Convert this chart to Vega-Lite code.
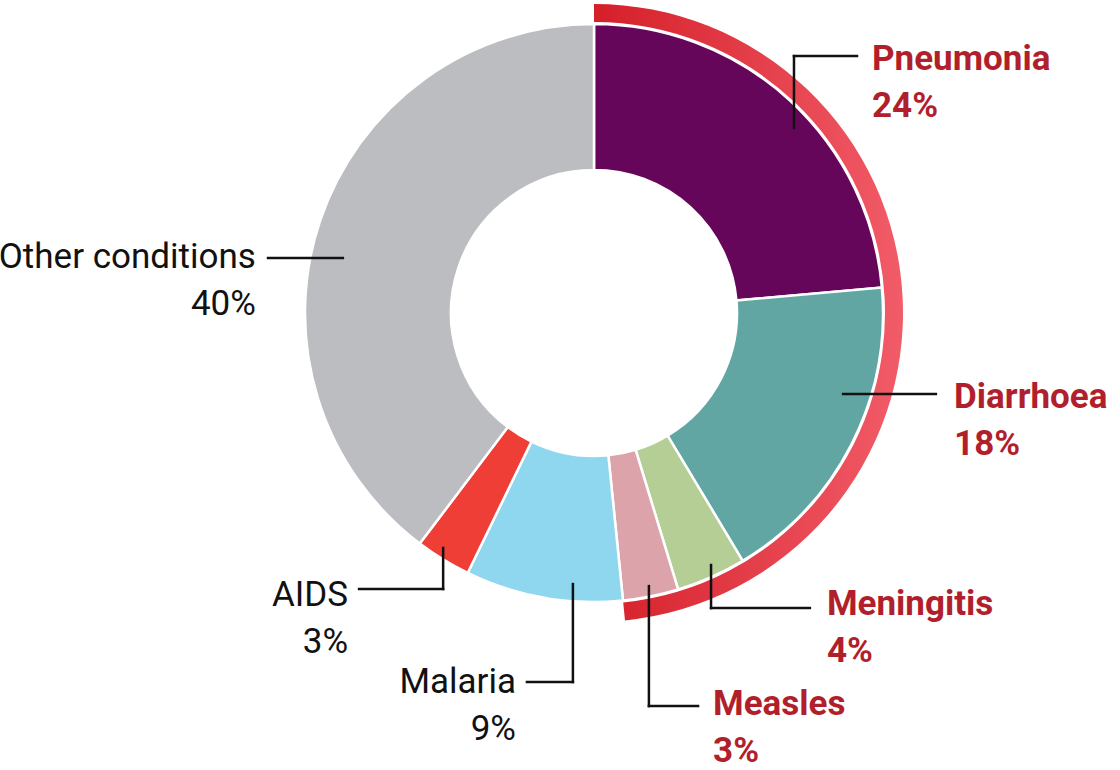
{
  "$schema": "https://vega.github.io/schema/vega-lite/v6.json",
  "width": 1120,
  "height": 770,
  "padding": 0,
  "autosize": {"type": "none"},
  "background": "white",
  "config": {"view": {"stroke": null}},
  "datasets": {
    "causes": [
      {"cause": "Pneumonia", "value": 23.6, "idx": 1},
      {"cause": "Diarrhoea", "value": 17.8, "idx": 2},
      {"cause": "Meningitis", "value": 3.9, "idx": 3},
      {"cause": "Measles", "value": 3.1, "idx": 4},
      {"cause": "Malaria", "value": 8.8, "idx": 5},
      {"cause": "AIDS", "value": 3.1, "idx": 6},
      {"cause": "Other conditions", "value": 39.7, "idx": 7}
    ],
    "ring": [
      {"group": "Pneumonia, diarrhoea, meningitis and measles", "value": 48.4}
    ],
    "leaders": [
      {"cause": "Pneumonia", "x": 69.2, "y": 64.0, "x2": 69.2, "y2": 88.9},
      {"cause": "Pneumonia", "x": 69.2, "y": 88.9, "x2": 91.0, "y2": 88.9},
      {"cause": "Diarrhoea", "x": 86.2, "y": -28.0, "x2": 118.3, "y2": -28.0},
      {"cause": "Meningitis", "x": 40.5, "y": -87.2, "x2": 40.5, "y2": -102.1},
      {"cause": "Meningitis", "x": 40.5, "y": -102.1, "x2": 74.7, "y2": -102.1},
      {"cause": "Measles", "x": 19.0, "y": -94.5, "x2": 19.0, "y2": -136.0},
      {"cause": "Measles", "x": 19.0, "y": -136.0, "x2": 36.0, "y2": -136.0},
      {"cause": "Malaria", "x": -7.3, "y": -93.8, "x2": -7.3, "y2": -127.7},
      {"cause": "Malaria", "x": -7.3, "y": -127.7, "x2": -23.2, "y2": -127.7},
      {"cause": "AIDS", "x": -52.2, "y": -81.3, "x2": -52.2, "y2": -95.5},
      {"cause": "AIDS", "x": -52.2, "y": -95.5, "x2": -81.3, "y2": -95.5},
      {"cause": "Other conditions", "x": -112.8, "y": 19.0, "x2": -86.9, "y2": 19.0}
    ],
    "labels": [
      {"label": "Pneumonia\n24%", "side": "right", "x": 96.2, "y": 84.1},
      {"label": "Diarrhoea\n18%", "side": "right", "x": 124.6, "y": -32.9},
      {"label": "Meningitis\n4%", "side": "right", "x": 80.6, "y": -104.5},
      {"label": "Measles\n3%", "side": "right", "x": 41.2, "y": -139.1},
      {"label": "Malaria\n9%", "side": "left", "x": -27.0, "y": -131.5},
      {"label": "AIDS\n3%", "side": "left", "x": -85.1, "y": -101.4},
      {"label": "Other conditions\n40%", "side": "left", "x": -117.0, "y": 15.6}
    ]
  },
  "layer": [
    {
      "data": {"name": "ring"},
      "mark": {
        "type": "arc",
        "innerRadius": 291,
        "outerRadius": 309,
        "fill": {
          "gradient": "linear",
          "x1": 0, "y1": 0, "x2": 1, "y2": 0,
          "stops": [
            {"offset": 0, "color": "#d51f29"},
            {"offset": 1, "color": "#f15c68"}
          ]
        }
      },
      "encoding": {
        "theta": {"field": "value", "type": "quantitative", "scale": {"domain": [0, 100]}},
        "x": {"datum": 0, "type": "quantitative", "scale": {"domain": [-205.54, 182.01], "nice": false, "zero": false}, "axis": null},
        "y": {"datum": 0, "type": "quantitative", "scale": {"domain": [-158.13, 108.30], "nice": false, "zero": false}, "axis": null}
      }
    },
    {
      "data": {"name": "causes"},
      "mark": {"type": "arc", "innerRadius": 143, "outerRadius": 289, "stroke": "white", "strokeWidth": 2.5},
      "encoding": {
        "theta": {"field": "value", "type": "quantitative", "scale": {"domain": [0, 100]}},
        "order": {"field": "idx"},
        "fill": {
          "field": "cause",
          "type": "nominal",
          "scale": {
            "domain": ["Pneumonia", "Diarrhoea", "Meningitis", "Measles", "Malaria", "AIDS", "Other conditions"],
            "range": ["#66065a", "#62a6a4", "#b5ce96", "#dda3ab", "#8fd6ef", "#ef3e36", "#bcbdc1"]
          },
          "legend": null
        },
        "x": {"datum": 0, "type": "quantitative", "scale": {"domain": [-205.54, 182.01], "nice": false, "zero": false}, "axis": null},
        "y": {"datum": 0, "type": "quantitative", "scale": {"domain": [-158.13, 108.30], "nice": false, "zero": false}, "axis": null}
      }
    },
    {
      "data": {"name": "leaders"},
      "mark": {"type": "rule", "color": "#111111", "strokeWidth": 2.5, "strokeCap": "square"},
      "encoding": {
        "x": {"field": "x", "type": "quantitative", "scale": {"domain": [-205.54, 182.01], "nice": false, "zero": false}, "axis": null},
        "y": {"field": "y", "type": "quantitative", "scale": {"domain": [-158.13, 108.30], "nice": false, "zero": false}, "axis": null},
        "x2": {"field": "x2"},
        "y2": {"field": "y2"}
      }
    },
    {
      "data": {"name": "labels"},
      "transform": [{"filter": "datum.side === 'right'"}],
      "mark": {
        "type": "text",
        "align": "left",
        "baseline": "alphabetic",
        "lineBreak": "\n",
        "lineHeight": 47,
        "font": "Roboto",
        "fontSize": 35,
        "fontWeight": "bold",
        "fill": "#b21f2c"
      },
      "encoding": {
        "text": {"field": "label"},
        "x": {"field": "x", "type": "quantitative", "scale": {"domain": [-205.54, 182.01], "nice": false, "zero": false}, "axis": null},
        "y": {"field": "y", "type": "quantitative", "scale": {"domain": [-158.13, 108.30], "nice": false, "zero": false}, "axis": null}
      }
    },
    {
      "data": {"name": "labels"},
      "transform": [{"filter": "datum.side === 'left'"}],
      "mark": {
        "type": "text",
        "align": "right",
        "baseline": "alphabetic",
        "lineBreak": "\n",
        "lineHeight": 47,
        "font": "Roboto",
        "fontSize": 35,
        "fontWeight": "normal",
        "fill": "#111111"
      },
      "encoding": {
        "text": {"field": "label"},
        "x": {"field": "x", "type": "quantitative", "scale": {"domain": [-205.54, 182.01], "nice": false, "zero": false}, "axis": null},
        "y": {"field": "y", "type": "quantitative", "scale": {"domain": [-158.13, 108.30], "nice": false, "zero": false}, "axis": null}
      }
    }
  ]
}
